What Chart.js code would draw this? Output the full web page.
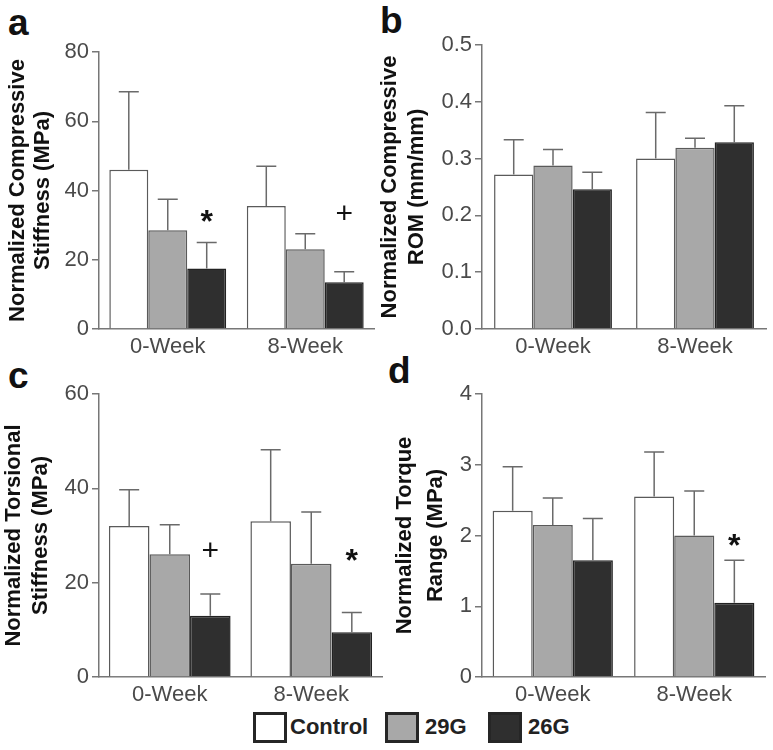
<!DOCTYPE html>
<html>
<head>
<meta charset="utf-8">
<script src="https://cdn.jsdelivr.net/npm/chart.js@4.4.1/dist/chart.umd.min.js"></script>
<style>
	body { margin: 0; background: #fff; }
	#fig { position: relative; width: 773px; height: 750px; overflow: hidden; font-family: "Liberation Sans", Arial, sans-serif; }
	canvas { position: absolute; }
	.letter { position: absolute; font-size: 37px; font-weight: bold; line-height: 36px; color: #111; }
	.key { position: absolute; top: 712px; width: 28px; height: 25px; border: 3px solid #262626; }
	.keytxt { position: absolute; top: 714px; font-size: 22px; font-weight: bold; line-height: 26px; color: #222; }
</style>
</head>
<body>
<div id="fig">
	<div class="letter" style="left:8px;top:5px">a</div>
	<div class="letter" style="left:380px;top:3px">b</div>
	<div class="letter" style="left:8px;top:358px">c</div>
	<div class="letter" style="left:388px;top:353px">d</div>
	<canvas id="chartA" width="386" height="365" style="left:0;top:0"></canvas>
	<canvas id="chartB" width="397" height="365" style="left:376px;top:0"></canvas>
	<canvas id="chartC" width="390" height="345" style="left:0;top:365px"></canvas>
	<canvas id="chartD" width="383" height="345" style="left:390px;top:365px"></canvas>
	<div class="key" style="left:253px;background:#fff"></div>
	<div class="keytxt" style="left:290px">Control</div>
	<div class="key" style="left:385px;background:#a8a8a8"></div>
	<div class="keytxt" style="left:425px">29G</div>
	<div class="key" style="left:488px;background:#2f2f2f"></div>
	<div class="keytxt" style="left:528px">26G</div>
</div>
<script>
const weeks = ['0-Week', '8-Week'];
const groups = ['Control', '29G', '26G'];

// a: compressive stiffness (MPa) - bar height and top of error bar
const aControl = [46, 35.5], aControlErr = [68.5, 47];
const a29G = [28.5, 23], a29GErr = [37.5, 27.5];
const a26G = [17.5, 13.5], a26GErr = [25, 16.5];
const aMarks = ['*', '+'], aMarkAt = [33, 33];
const aTicks = [0, 20, 40, 60, 80];

// b: compressive ROM (mm/mm)
const bControl = [0.272, 0.300], bControlErr = [0.333, 0.381];
const b29G = [0.288, 0.319], b29GErr = [0.316, 0.336];
const b26G = [0.246, 0.329], b26GErr = [0.276, 0.393];
const bMarks = ['', ''], bMarkAt = [null, null];
const bTicks = [0.0, 0.1, 0.2, 0.3, 0.4, 0.5];

// c: torsional stiffness (MPa)
const cControl = [32, 33], cControlErr = [39.7, 48.2];
const c29G = [26, 24], c29GErr = [32.3, 35];
const c26G = [13, 9.5], c26GErr = [17.6, 13.7];
const cMarks = ['+', '*'], cMarkAt = [26.5, 26];
const cTicks = [0, 20, 40, 60];

// d: torque range (MPa)
const dControl = [2.35, 2.55], dControlErr = [2.97, 3.18];
const d29G = [2.15, 2.0], d29GErr = [2.53, 2.63];
const d26G = [1.65, 1.05], d26GErr = [2.24, 1.65];
const dMarks = ['', '*'], dMarkAt = [null, 1.95];
const dTicks = [0, 1, 2, 3, 4];

const fillColors = ['#ffffff', '#a8a8a8', '#2f2f2f'];
const edgeColors = ['#5a5a5a', '#5a5a5a', '#222222'];
const FONT = '"Liberation Sans", Arial, sans-serif';

// error bars (upward only) and significance marks
const errorBars = {
	id: 'errorBars',
	afterDatasetsDraw(chart, args, opts) {
		const ctx = chart.ctx;
		const y = chart.scales.y;
		ctx.save();
		ctx.strokeStyle = '#6a6a6a';
		ctx.lineWidth = 1.5;
		chart.data.datasets.forEach((ds, i) => {
			chart.getDatasetMeta(i).data.forEach((bar, j) => {
				const top = y.getPixelForValue(ds.errTop[j]);
				ctx.beginPath();
				ctx.moveTo(bar.x, bar.y);
				ctx.lineTo(bar.x, top);
				ctx.moveTo(bar.x - 10, top);
				ctx.lineTo(bar.x + 10, top);
				ctx.stroke();
			});
		});
		ctx.fillStyle = '#111';
		ctx.textAlign = 'center';
		ctx.textBaseline = 'middle';
		opts.marks.forEach((m, j) => {
			if (!m) return;
			const bar = chart.getDatasetMeta(2).data[j];
			const py = y.getPixelForValue(opts.markAt[j]);
			if (m === '*') {
				ctx.font = 'bold 32px ' + FONT;
				ctx.fillText(m, bar.x, py + 8);
			} else {
				ctx.font = '30px ' + FONT;
				ctx.fillText(m, bar.x, py);
			}
		});
		ctx.restore();
	}
};

function makePanel(id, p) {
	const series = [p.control, p.g29, p.g26];
	const errs = [p.controlErr, p.g29Err, p.g26Err];
	const datasets = groups.map((g, i) => ({
		label: g,
		data: series[i],
		errTop: errs[i],
		backgroundColor: fillColors[i],
		borderColor: edgeColors[i],
		borderWidth: 1.5,
		categoryPercentage: p.catPct,
		barPercentage: 1
	}));
	new Chart(document.getElementById(id), {
		type: 'bar',
		data: { labels: weeks, datasets: datasets },
		plugins: [errorBars],
		options: {
			responsive: false,
			animation: false,
			layout: { padding: { top: p.padTop, right: p.padRight, left: 0, bottom: 0 } },
			plugins: {
				legend: { display: false },
				tooltip: { enabled: false },
				errorBars: { marks: p.marks, markAt: p.markAt }
			},
			scales: {
				x: {
					grid: { display: false, drawTicks: false },
					border: { display: true, color: '#777', width: 1.5 },
					ticks: { color: '#4a4a4a', padding: 5, font: { family: FONT, size: 22 } },
					afterFit(scale) { scale.height = p.xHeight; }
				},
				y: {
					min: p.ticks[0],
					max: p.ticks[p.ticks.length - 1],
					afterBuildTicks(scale) { scale.ticks = p.ticks.map(v => ({ value: v })); },
					grid: { drawOnChartArea: false, drawTicks: true, tickLength: 7, color: '#777', lineWidth: 1.5 },
					border: { display: true, color: '#777', width: 1.5 },
					ticks: {
						color: '#4a4a4a',
						padding: 3,
						font: { family: FONT, size: 22 },
						callback: v => p.decimals ? v.toFixed(p.decimals) : v
					},
					title: {
						display: true,
						text: p.title,
						color: '#111',
						padding: { top: p.titlePad, bottom: 0 },
						font: { family: FONT, size: 22, weight: 'bold', lineHeight: p.titleLH }
					},
					afterFit(scale) { scale.width = p.yWidth; }
				}
			}
		}
	});
}

makePanel('chartA', {
	control: aControl, controlErr: aControlErr, g29: a29G, g29Err: a29GErr, g26: a26G, g26Err: a26GErr,
	marks: aMarks, markAt: aMarkAt, ticks: aTicks, decimals: 0,
	title: ['Normalized Compressive', 'Stiffness (MPa)'],
	padTop: 52, padRight: 12, xHeight: 36, yWidth: 99, titlePad: 5, titleLH: 1.15, catPct: 0.85
});
makePanel('chartB', {
	control: bControl, controlErr: bControlErr, g29: b29G, g29Err: b29GErr, g26: b26G, g26Err: b26GErr,
	marks: bMarks, markAt: bMarkAt, ticks: bTicks, decimals: 1,
	title: ['Normalized Compressive', 'ROM (mm/mm)'],
	padTop: 45, padRight: 7, xHeight: 36, yWidth: 106, titlePad: 1, titleLH: 1.2, catPct: 0.83
});
makePanel('chartC', {
	control: cControl, controlErr: cControlErr, g29: c29G, g29Err: c29GErr, g26: c26G, g26Err: c26GErr,
	marks: cMarks, markAt: cMarkAt, ticks: cTicks, decimals: 0,
	title: ['Normalized Torsional', 'Stiffness (MPa)'],
	padTop: 29, padRight: 8, xHeight: 33, yWidth: 99, titlePad: 0, titleLH: 1.25, catPct: 0.86
});
makePanel('chartD', {
	control: dControl, controlErr: dControlErr, g29: d29G, g29Err: d29GErr, g26: d26G, g26Err: d26GErr,
	marks: dMarks, markAt: dMarkAt, ticks: dTicks, decimals: 0,
	title: ['Normalized Torque', 'Range (MPa)'],
	padTop: 29, padRight: 8, xHeight: 33, yWidth: 92, titlePad: 0, titleLH: 1.4, catPct: 0.85
});
</script>
</body>
</html>
